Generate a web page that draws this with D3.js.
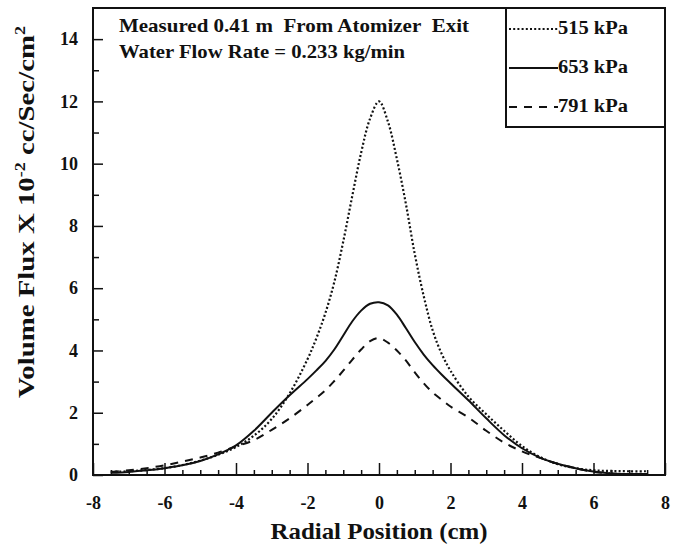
<!DOCTYPE html>
<html>
<head>
<meta charset="utf-8">
<script src="https://cdn.jsdelivr.net/npm/d3@7"></script>
<style>
body { margin:0; background:#fff; }
svg text { font-family:"Liberation Serif", serif; font-weight:bold; fill:#111; }
</style>
</head>
<body>
<svg id="chart"></svg>
<script>
// radial positions (cm)
var xs = [-7.5,-7,-6.5,-6,-5.5,-5,-4.5,-4,-3.5,-3,-2.5,-2,-1.75,-1.5,-1.25,-1,-0.75,-0.5,-0.25,0,
          0.25,0.5,0.75,1,1.25,1.5,1.75,2,2.5,3,3.5,4,4.5,5,5.5,6,6.5,7,7.5];
// volume flux x 10^-2 cc/sec/cm^2
var flux515 = [0.10,0.12,0.16,0.22,0.32,0.46,0.65,0.90,1.26,1.80,2.62,3.72,4.40,5.2,6.2,7.5,8.95,10.35,11.45,12.0,
               11.35,10.15,8.72,7.1,5.75,4.65,3.9,3.35,2.52,1.95,1.42,0.93,0.58,0.35,0.22,0.15,0.13,0.12,0.12];
var flux653 = [0.07,0.10,0.15,0.22,0.31,0.45,0.66,0.95,1.42,2.0,2.56,3.08,3.36,3.66,4.03,4.48,4.93,5.28,5.5,5.55,
               5.45,5.15,4.72,4.27,3.87,3.53,3.23,2.95,2.4,1.82,1.28,0.86,0.56,0.36,0.22,0.11,0.05,0.03,0.03];
var flux791 = [0.10,0.15,0.22,0.31,0.43,0.56,0.72,0.92,1.12,1.45,1.82,2.25,2.48,2.72,3.02,3.35,3.7,4.03,4.3,4.4,
               4.25,4.0,3.68,3.3,2.95,2.65,2.42,2.2,1.85,1.42,1.04,0.76,0.55,0.36,0.22,0.10,0.05,0.03,0.03];
var seriesNames = ["515 kPa","653 kPa","791 kPa"];
var xMajor = [-8,-6,-4,-2,0,2,4,6,8];
var xMinor = d3.range(-7.5,8,0.5).filter(function(v){ return v%2!==0; });
var yMajor = [0,2,4,6,8,10,12,14];
var yMinor = [1,3,5,7,9,11,13];
var notes = ["Measured 0.41 m\u00a0\u00a0From Atomizer\u00a0\u00a0Exit","Water Flow Rate = 0.233 kg/min"];

var screen = {width:680,height:546};
var margins = {left:93,right:15,top:8,bottom:71};
var graph = {width:screen.width-margins.left-margins.right, height:screen.height-margins.top-margins.bottom};

var svg = d3.select("#chart").attr("width",screen.width).attr("height",screen.height);

var xScale = d3.scaleLinear().domain([-8,8]).range([0,graph.width]);
var yScale = d3.scaleLinear().domain([0,15]).range([graph.height,0]);

var target = svg.append("g")
    .attr("transform","translate("+margins.left+","+margins.top+")");

var plain = function(d){ return String(d); };

// axes with inward ticks
var xAxis = d3.axisBottom(xScale).tickValues(xMajor).tickSizeInner(-12).tickSizeOuter(0).tickPadding(21).tickFormat(plain);
var xAxisMinor = d3.axisBottom(xScale).tickValues(xMinor).tickSizeInner(-5).tickSizeOuter(0).tickFormat("");
var yAxis = d3.axisLeft(yScale).tickValues(yMajor).tickSizeInner(-10).tickSizeOuter(0).tickPadding(15).tickFormat(plain);
var yAxisMinor = d3.axisLeft(yScale).tickValues(yMinor).tickSizeInner(-6).tickSizeOuter(0).tickFormat("");

var gx = target.append("g").attr("transform","translate(0,"+graph.height+")");
gx.call(xAxis);
gx.append("g").call(xAxisMinor);
var gy = target.append("g");
gy.call(yAxis);
gy.append("g").call(yAxisMinor);
target.selectAll(".domain").remove();
target.selectAll(".tick line").attr("stroke","#111").attr("stroke-width",1.5);
target.selectAll(".tick text")
    .attr("fill","#111")
    .attr("font-family","Liberation Serif, serif")
    .attr("font-weight","bold")
    .attr("font-size",18);

// frame
target.append("rect")
    .attr("x",0).attr("y",0)
    .attr("width",graph.width).attr("height",graph.height)
    .attr("fill","none").attr("stroke","#111").attr("stroke-width",2);

// curves
var styles = [
    {data:flux515, dash:"2,2.2", width:2.2},
    {data:flux653, dash:null, width:2},
    {data:flux791, dash:"8,7", width:2}
];
var line = d3.line()
    .x(function(d){ return xScale(d[0]); })
    .y(function(d){ return yScale(d[1]); })
    .curve(d3.curveCatmullRom.alpha(0.5));

styles.forEach(function(s){
    target.append("path")
        .datum(xs.map(function(x,i){ return [x,s.data[i]]; }))
        .attr("d",line)
        .attr("fill","none")
        .attr("stroke","#111")
        .attr("stroke-width",s.width)
        .attr("stroke-dasharray",s.dash);
});

// annotation
target.selectAll(".note")
    .data(notes)
    .enter()
    .append("text")
    .classed("note",true)
    .text(function(d){ return d; })
    .attr("x",26)
    .attr("y",function(d,i){ return 24+i*26; })
    .attr("font-size",19)
    .attr("textLength",function(d,i){ return i==0 ? 350 : 286; })
    .attr("lengthAdjust","spacingAndGlyphs");

// legend box
var legend = target.append("g")
    .attr("transform","translate("+(graph.width-159)+",0)");
legend.append("rect")
    .attr("width",159).attr("height",119)
    .attr("fill","none").attr("stroke","#111").attr("stroke-width",2);
var entries = legend.selectAll(".entry")
    .data(seriesNames)
    .enter()
    .append("g")
    .classed("entry",true)
    .attr("transform",function(d,i){ return "translate(0,"+(21+i*39)+")"; });
entries.append("line")
    .attr("x1",3).attr("x2",52).attr("y1",0).attr("y2",0)
    .attr("stroke","#111")
    .attr("stroke-width",function(d,i){ return styles[i].width; })
    .attr("stroke-dasharray",function(d,i){ return styles[i].dash; });
entries.append("text")
    .text(function(d){ return d; })
    .attr("x",52).attr("y",5)
    .attr("font-size",18)
    .attr("textLength",70)
    .attr("lengthAdjust","spacingAndGlyphs");

// axis titles
svg.append("text")
    .attr("text-anchor","middle")
    .attr("x",margins.left+graph.width/2)
    .attr("y",539)
    .attr("font-size",24)
    .attr("textLength",217)
    .attr("lengthAdjust","spacingAndGlyphs")
    .text("Radial Position (cm)");

var yTitle = svg.append("text")
    .attr("text-anchor","middle")
    .attr("font-size",24);
yTitle.append("tspan").text("Volume Flux X 10");
yTitle.append("tspan").attr("dy",-9).attr("font-size",15).text("-2");
yTitle.append("tspan").attr("dy",9).text(" cc/Sec/cm");
yTitle.append("tspan").attr("dy",-9).attr("font-size",15).text("2");
var titleLen = yTitle.node().getComputedTextLength();
yTitle.attr("transform","translate(34,212) rotate(-90) scale("+(372/titleLen)+",1)");
</script>
</body>
</html>
